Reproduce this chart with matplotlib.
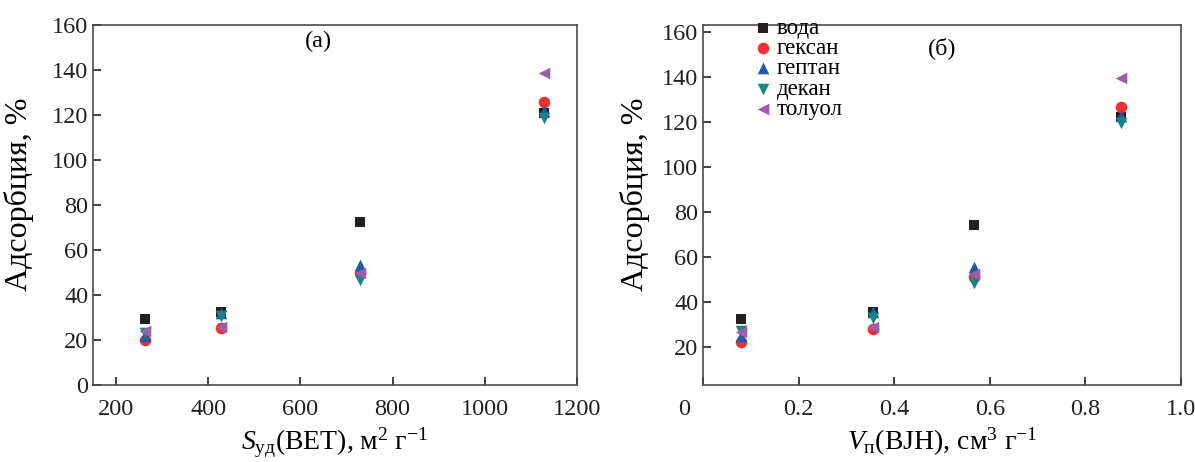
import numpy as np
import matplotlib.pyplot as plt
import matplotlib.transforms as mtransforms

plt.rcParams['font.family'] = ['Liberation Serif', 'DejaVu Serif']
plt.rcParams['mathtext.fontset'] = 'custom'
plt.rcParams['mathtext.rm'] = 'Liberation Serif'
plt.rcParams['mathtext.it'] = 'Liberation Serif:italic'

# Данные
s_bet = np.array([262, 428, 730, 1128])
v_bjh = np.array([0.08, 0.356, 0.567, 0.874])

names = ['вода', 'гексан', 'гептан', 'декан', 'толуол']
ads_a = {
    'вода':   [29.3, 32.4, 72.4, 121],
    'гексан': [20.0, 25.3, 50.0, 126],
    'гептан': [22.0, 32.0, 53.3, 122],
    'декан':  [23.0, 30.5, 46.5, 118.5],
    'толуол': [23.8, 26.0, 50.0, 138.5],
}
ads_b = {
    'вода':   [32.4, 35.5, 74.0, 122],
    'гексан': [22.0, 28.0, 51.0, 126.7],
    'гептан': [25.0, 35.5, 55.5, 122.5],
    'декан':  [27.0, 33.0, 48.5, 119.5],
    'толуол': [26.5, 29.0, 52.4, 139.3],
}

markers = ['s', 'o', '^', 'v', '<']
colors = ['#231f20', '#ee3137', '#1f5aa6', '#1b8383', '#9b5fa7']
sizes = [55, 70, 70, 70, 70]

fig = plt.figure(figsize=(11.95, 4.62), dpi=100)
ax1 = fig.add_axes([93/1195, 77/462, 484/1195, 360/462])
ax2 = fig.add_axes([703/1195, 77/462, 478/1195, 360/462])

for nm, mk, c, sz in zip(names, markers, colors, sizes):
    ax1.scatter(s_bet, ads_a[nm], marker=mk, color=c, s=sz, linewidths=0, label=nm)
    ax2.scatter(v_bjh, ads_b[nm], marker=mk, color=c, s=sz, linewidths=0, label=nm)

fs = 17.5
lfs = 20
ax1.set_xlim(150, 1200)
ax1.set_ylim(0, 160)
ax1.set_xticks([200, 400, 600, 800, 1000, 1200])
ax1.set_yticks(np.arange(0, 161, 20))
ax1.set_xlabel(r'$\mathit{S}_{\mathrm{уд}}$(BET), м$^{2}$ г$^{-1}$', fontsize=lfs, labelpad=4)
ax1.set_ylabel('Адсорбция, %', fontsize=23)
ax1.yaxis.set_label_coords(-0.121, 0.53)
ax1.text(0.465, 0.955, '(а)', transform=ax1.transAxes, fontsize=fs, ha='center', va='center')

ax2.set_xlim(0, 1.0)
ax2.set_ylim(3, 163)
ax2.set_xticks([0, 0.2, 0.4, 0.6, 0.8, 1.0])
ax2.set_xticklabels(['0', '0.2', '0.4', '0.6', '0.8', '1.0'])
ax2.set_yticks(np.arange(20, 161, 20))
ax2.set_xlabel(r'$\mathit{V}_{\mathrm{п}}$(BJH), см$^{3}$ г$^{-1}$', fontsize=lfs, labelpad=4)
ax2.set_ylabel('Адсорбция, %', fontsize=23)
ax2.yaxis.set_label_coords(-0.11, 0.53)
ax2.text(0.5, 0.935, '(б)', transform=ax2.transAxes, fontsize=fs, ha='center', va='center')
leg = ax2.legend(loc='upper left', bbox_to_anchor=(0.063, 1.065), frameon=False, fontsize=16.5,
                 handletextpad=0.0, labelspacing=-0.03, borderpad=0.2, scatterpoints=1,
                 handlelength=1.2)

for ax in (ax1, ax2):
    ax.tick_params(direction='in', length=6, width=1.2, labelsize=fs, colors='#231f20',
                   top=False, right=False)
    ax.tick_params(axis='x', pad=10)
    for sp in ax.spines.values():
        sp.set_linewidth(1.2)
        sp.set_color('#4a4a4a')

# сдвиг подписи "0" на правом графике влево
lbl0 = ax2.get_xticklabels()[0]
lbl0.set_transform(lbl0.get_transform() + mtransforms.ScaledTranslation(-0.19, 0, fig.dpi_scale_trans))

fig.savefig('out.png', dpi=100)
